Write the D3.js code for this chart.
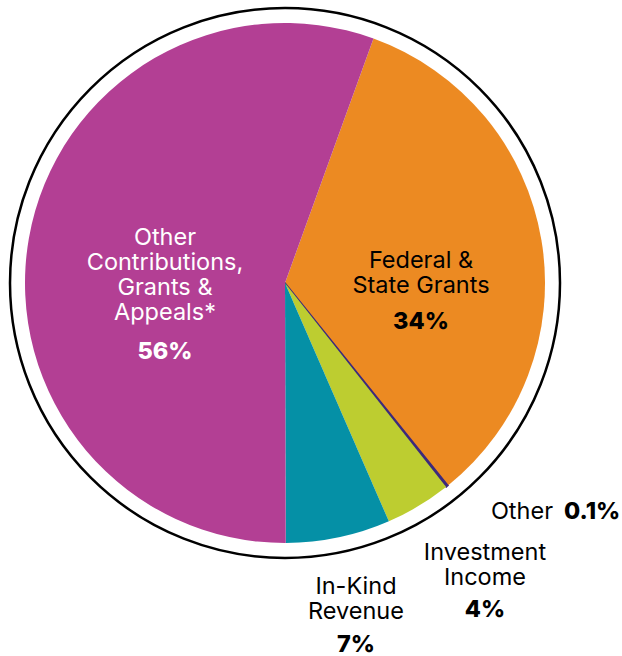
<!DOCTYPE html>
<html>
<head>
<meta charset="utf-8">
<script src="https://cdn.jsdelivr.net/npm/d3@7"></script>
<style>
  body { margin: 0; background: #fff; }
  svg { display: block; }
  text { font-family: Inter, "Noto Sans", sans-serif; }
</style>
</head>
<body>
<svg id="chart" width="622" height="656"></svg>
<script>
// revenue shares, clockwise from the top (Federal starts just right of 12 o'clock)
const categories = ["Federal & State Grants", "Other", "Investment Income", "In-Kind Revenue", "Other Contributions, Grants & Appeals*"]
const values = [33.7, 0.15, 4.1, 6.5, 55.6]
const pctLabels = ["34%", "0.1%", "4%", "7%", "56%"]
const colors = ["#ec8a22", "#3d2a7c", "#bdcd30", "#0590a6", "#b33f94"]

const cx = 285
const cy = 283
const radius = 260
const ringRadius = 275
const startDeg = 19.9
const fontSize = 23.5
const lineGap = 25

const svg = d3.select("#chart")
const g = svg.append("g").attr("transform", `translate(${cx},${cy})`)

// outer ring
g.append("circle")
  .attr("r", ringRadius)
  .attr("fill", "none")
  .attr("stroke", "black")
  .attr("stroke-width", 2.5)

const pie = d3.pie()
  .sort(null)
  .value(d => d)
  .startAngle(startDeg * Math.PI / 180)
  .endAngle(startDeg * Math.PI / 180 + 2 * Math.PI)

const arc = d3.arc().innerRadius(0).outerRadius(radius)

const slices = pie(values)
g.selectAll("path.slice")
  .data(slices)
  .enter()
  .append("path")
  .attr("class", "slice")
  .attr("d", arc)
  .attr("fill", (d, i) => colors[i])
  .attr("stroke", (d, i) => i == 1 ? colors[i] : "none")
  .attr("stroke-width", 1.5)

// label placement (absolute page coords), one entry per category
const labelLayout = [
  { x: 421, y: 259, lines: ["Federal &", "State Grants"], pctGap: 36, fill: "black" },
  null,
  { x: 485, y: 551, lines: ["Investment", "Income"], pctGap: 32, fill: "black" },
  { x: 356, y: 585, lines: ["In-Kind", "Revenue"], pctGap: 33, fill: "black" },
  { x: 165, y: 236, lines: ["Other", "Contributions,", "Grants &", "Appeals*"], pctGap: 39, fill: "white" }
]

function printLabel(i) {
  const L = labelLayout[i]
  if (L == null) return
  // one text block per slice, lines as tspans
  const t = svg.append("text")
    .attr("text-anchor", "middle")
    .attr("dominant-baseline", "central")
    .style("font-size", fontSize + "px")
    .style("fill", L.fill)
  L.lines.forEach((line, k) => {
    t.append("tspan")
      .attr("x", L.x)
      .attr("y", L.y + k * lineGap)
      .attr("dominant-baseline", "central")
      .text(line)
  })
  t.append("tspan")
    .attr("x", L.x)
    .attr("y", L.y + (L.lines.length - 1) * lineGap + L.pctGap)
    .attr("dominant-baseline", "central")
    .style("font-weight", "800")
    .text(pctLabels[i])
}

for (let i = 0; i < categories.length; i++) printLabel(i)

// the tiny "Other" slice gets its label on one line off to the side
svg.append("text")
  .attr("x", 553)
  .attr("y", 510)
  .attr("text-anchor", "end")
  .attr("dominant-baseline", "central")
  .style("font-size", fontSize + "px")
  .text(categories[1])
svg.append("text")
  .attr("x", 564)
  .attr("y", 510)
  .attr("dominant-baseline", "central")
  .style("font-size", fontSize + "px")
  .style("font-weight", "800")
  .text(pctLabels[1])
</script>
</body>
</html>
